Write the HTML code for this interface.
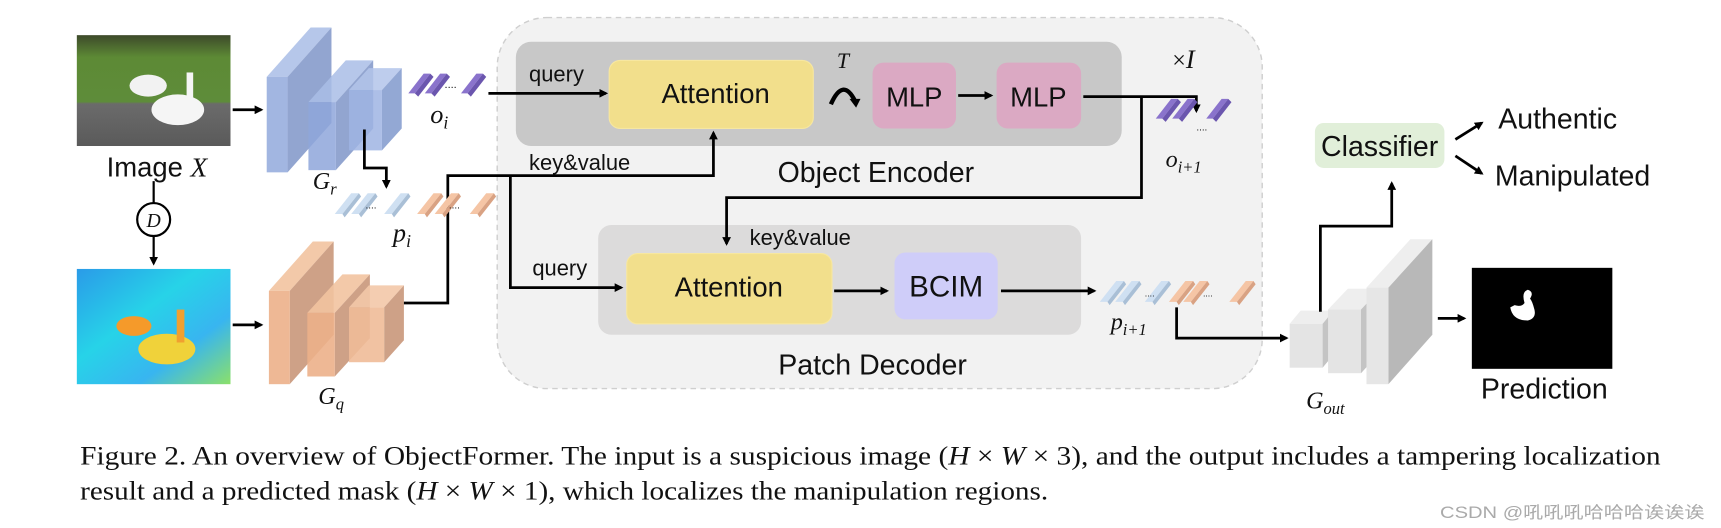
<!DOCTYPE html>
<html><head><meta charset="utf-8"><style>
html,body{margin:0;padding:0;background:#fff;}
svg{display:block;}
.s{font-family:"Liberation Sans",sans-serif;fill:#111;}
.m{font-family:"Liberation Serif",serif;font-style:italic;fill:#111;}
.c{font-family:"Liberation Serif",serif;fill:#111;}
</style></head><body>
<svg width="1721" height="528" viewBox="0 0 1568 481" xmlns="http://www.w3.org/2000/svg">
<defs>
<marker id="a" markerWidth="8" markerHeight="8" refX="6" refY="4" orient="auto" markerUnits="userSpaceOnUse"><path d="M0,0 L8,4 L0,8 Z" fill="#000"/></marker>
<linearGradient id="g1" x1="0" y1="0" x2="0" y2="1"><stop offset="0" stop-color="#3d4a2a"/><stop offset="0.2" stop-color="#5d8a35"/><stop offset="0.6" stop-color="#5e8c3a"/><stop offset="0.62" stop-color="#6b6b6b"/><stop offset="1" stop-color="#5a5a5a"/></linearGradient>
<linearGradient id="g2" x1="0" y1="0" x2="1" y2="1"><stop offset="0" stop-color="#2a9be8"/><stop offset="0.4" stop-color="#27d3e8"/><stop offset="0.7" stop-color="#38b5f0"/><stop offset="1" stop-color="#8be06a"/></linearGradient>
</defs>

<!-- images -->
<rect x="70" y="32" width="140" height="101" fill="url(#g1)"/>
<ellipse cx="135" cy="78" rx="17" ry="10" fill="#f2f2f2"/>
<ellipse cx="162" cy="100" rx="24" ry="14" fill="#f5f5f5"/>
<rect x="170" y="66" width="6" height="30" fill="#f5f5f5"/>
<rect x="70" y="245" width="140" height="105" fill="url(#g2)"/>
<ellipse cx="122" cy="297" rx="16" ry="9" fill="#f59a2a"/>
<ellipse cx="152" cy="318" rx="26" ry="14" fill="#f0d23a"/>
<rect x="161" y="282" width="7" height="30" fill="#f0a030"/>

<text x="143" y="161" class="s" font-size="25" text-anchor="middle">Image <tspan class="m">X</tspan></text>
<line x1="140" y1="165" x2="140" y2="185" stroke="#000" stroke-width="2"/>
<circle cx="140" cy="200" r="15" fill="#fff" stroke="#000" stroke-width="2"/>
<text x="140" y="207" class="m" font-size="18" text-anchor="middle">D</text>
<line x1="140" y1="215" x2="140" y2="240" stroke="#000" stroke-width="2" marker-end="url(#a)"/>
<line x1="212" y1="100" x2="238" y2="100" stroke="#000" stroke-width="2.5" marker-end="url(#a)"/>
<line x1="212" y1="296" x2="238" y2="296" stroke="#000" stroke-width="2.5" marker-end="url(#a)"/>

<!-- Gr -->
<g fill-opacity="0.85">
<polygon points="243,70 283,25 302,25 262,70" fill="#a9bde6"/>
<polygon points="262,70 302,25 302,112 262,157" fill="#7f95c8"/>
<rect x="243" y="70" width="19" height="87" fill="#92a9dc"/>
<polygon points="281,93 315,55 340,55 306,93" fill="#a9bde6"/>
<polygon points="306,93 340,55 340,117 306,155" fill="#7f95c8"/>
<rect x="281" y="93" width="25" height="62" fill="#8ea6da"/>
<polygon points="318,82 336,62 366,62 348,82" fill="#b3c4ea"/>
<polygon points="348,82 366,62 366,117 348,137" fill="#8099cc"/>
<rect x="318" y="82" width="30" height="55" fill="#9fb4e3"/>
</g>
<text x="285" y="172" class="m" font-size="22">G<tspan font-size="15" dy="5">r</tspan></text>
<!-- Gq -->
<g fill-opacity="0.9">
<polygon points="245,265 285,220 304,220 264,265" fill="#f2c3a0"/>
<polygon points="264,265 304,220 304,305 264,350" fill="#c9977a"/>
<rect x="245" y="265" width="19" height="85" fill="#ecb08a"/>
<polygon points="280,285 312,250 337,250 305,285" fill="#f2c3a0"/>
<polygon points="305,285 337,250 337,308 305,343" fill="#c9977a"/>
<rect x="280" y="285" width="25" height="58" fill="#ecb08a"/>
<polygon points="318,280 336,260 368,260 350,280" fill="#f3c8a8"/>
<polygon points="350,280 368,260 368,310 350,330" fill="#c9977a"/>
<rect x="318" y="280" width="32" height="50" fill="#f0bb98"/>
</g>
<text x="290" y="368" class="m" font-size="22">G<tspan font-size="15" dy="5">q</tspan></text>

<!-- container -->
<rect x="453" y="16" width="697" height="338" rx="45" fill="#f2f2f2" stroke="#cfcfcf" stroke-width="1.3" stroke-dasharray="5,4"/>
<rect x="470" y="38" width="552" height="95" rx="14" fill="#c8c8c8"/>
<rect x="545" y="205" width="440" height="100" rx="12" fill="#dcdbdb"/>

<!-- o_i tokens -->
<g id="tp">
<polygon points="372,85 386,67 392,67 378,85" fill="#8a73cc"/>
<polygon points="378,85 392,67 395,70 381,88" fill="#6b56ae"/>
</g>
<use href="#tp" x="15"/><use href="#tp" x="48"/>
<text x="405" y="80" class="s" font-size="10">....</text>
<text x="392" y="112" class="m" font-size="24">o<tspan font-size="16" dy="5">i</tspan></text>

<!-- Object encoder -->
<text x="482" y="74" class="s" font-size="20">query</text>
<line x1="445" y1="85" x2="552" y2="85" stroke="#000" stroke-width="2.5" marker-end="url(#a)"/>
<rect x="555" y="55" width="186" height="62" rx="10" fill="#f2df8c" stroke="#f7e7a0"/>
<text x="652" y="94" class="s" font-size="25" text-anchor="middle">Attention</text>
<text x="768" y="62" class="m" font-size="20" text-anchor="middle">T</text>
<path d="M757,95 Q768,70 779,92" fill="none" stroke="#000" stroke-width="4"/>
<path d="M774,90 L784,90 L780,98 Z" fill="#000"/>
<rect x="795" y="57" width="76" height="60" rx="10" fill="#dba9c3"/>
<text x="833" y="97" class="s" font-size="25" text-anchor="middle">MLP</text>
<line x1="873" y1="87" x2="903" y2="87" stroke="#000" stroke-width="2.5" marker-end="url(#a)"/>
<rect x="908" y="57" width="77" height="60" rx="10" fill="#dba9c3"/>
<text x="946" y="97" class="s" font-size="25" text-anchor="middle">MLP</text>
<polyline points="987,88 1090,88 1090,101" fill="none" stroke="#000" stroke-width="2.5" marker-end="url(#a)"/>
<text x="1068" y="62" class="c" font-size="22">×<tspan class="m" font-size="24">I</tspan></text>
<use href="#tp" x="681" y="23"/><use href="#tp" x="696" y="23"/><use href="#tp" x="727" y="23"/>
<text x="1090" y="119" class="s" font-size="9">....</text>
<text x="1062" y="152" class="m" font-size="22">o<tspan font-size="15" dy="5">i+1</tspan></text>
<polyline points="1040,88 1040,180 662,180 662,222" fill="none" stroke="#000" stroke-width="2.5" marker-end="url(#a)"/>
<text x="482" y="155" class="s" font-size="20">key&amp;value</text>
<text x="798" y="166" class="s" font-size="26" text-anchor="middle">Object Encoder</text>

<!-- p_i tokens and lines -->
<polyline points="332,118 332,153 352,153 352,170" fill="none" stroke="#000" stroke-width="2.5" marker-end="url(#a)"/>
<polyline points="368,276 408,276 408,160 650,160 650,121" fill="none" stroke="#000" stroke-width="2.5" marker-end="url(#a)"/>
<polyline points="465,160 465,262 566,262" fill="none" stroke="#000" stroke-width="2.5" marker-end="url(#a)"/>
<g id="tb">
<polygon points="305,195 320,176 327,176 312,195" fill="#cfe0f2"/>
<polygon points="312,195 327,176 329,179 314,198" fill="#a9bfd6"/>
</g>
<use href="#tb" x="15"/><use href="#tb" x="45"/>
<g id="to">
<polygon points="380,195 395,176 402,176 387,195" fill="#f5c5a5"/>
<polygon points="387,195 402,176 404,179 389,198" fill="#d9a283"/>
</g>
<use href="#to" x="16"/><use href="#to" x="48"/>
<text x="333" y="190" class="s" font-size="9">....</text>
<text x="409" y="190" class="s" font-size="9">....</text>
<text x="358" y="220" class="m" font-size="24">p<tspan font-size="16" dy="5">i</tspan></text>

<!-- Patch decoder -->
<text x="683" y="223" class="s" font-size="20">key&amp;value</text>
<text x="485" y="251" class="s" font-size="20">query</text>
<rect x="571" y="231" width="187" height="64" rx="10" fill="#f2df8c" stroke="#f7e7a0"/>
<text x="664" y="270" class="s" font-size="25" text-anchor="middle">Attention</text>
<line x1="760" y1="265" x2="808" y2="265" stroke="#000" stroke-width="2.5" marker-end="url(#a)"/>
<rect x="815" y="230" width="94" height="61" rx="10" fill="#cfcdf9"/>
<text x="862" y="270" class="s" font-size="27" text-anchor="middle">BCIM</text>
<line x1="912" y1="265" x2="997" y2="265" stroke="#000" stroke-width="2.5" marker-end="url(#a)"/>
<use href="#tb" x="697" y="80"/><use href="#tb" x="711" y="80"/><use href="#tb" x="738" y="80"/>
<use href="#to" x="685" y="80"/><use href="#to" x="698" y="80"/><use href="#to" x="740" y="80"/>
<text x="1043" y="270" class="s" font-size="8">....</text>
<text x="1096" y="270" class="s" font-size="8">....</text>
<text x="1012" y="300" class="m" font-size="22">p<tspan font-size="15" dy="5">i+1</tspan></text>
<text x="795" y="341" class="s" font-size="26" text-anchor="middle">Patch Decoder</text>
<polyline points="1072,280 1072,308 1172,308" fill="none" stroke="#000" stroke-width="2.5" marker-end="url(#a)"/>

<!-- Gout -->
<polygon points="1175,295 1185,283 1215,283 1205,295" fill="#eeeeee"/>
<polygon points="1205,295 1215,283 1215,323 1205,335" fill="#c4c4c4"/>
<rect x="1175" y="295" width="30" height="40" fill="#e4e4e4"/>
<polygon points="1210,282 1228,263 1258,263 1240,282" fill="#eeeeee"/>
<polygon points="1240,282 1258,263 1258,320 1240,340" fill="#c4c4c4"/>
<rect x="1210" y="282" width="30" height="58" fill="#e4e4e4"/>
<polygon points="1245,262 1285,218 1305,218 1265,262" fill="#eeeeee"/>
<polygon points="1265,262 1305,218 1305,305 1265,350" fill="#b8b8b8"/>
<rect x="1245" y="262" width="20" height="88" fill="#e6e6e6"/>
<text x="1190" y="372" class="m" font-size="22">G<tspan font-size="15" dy="5">out</tspan></text>
<polyline points="1203,284 1203,206 1268,206 1268,167" fill="none" stroke="#000" stroke-width="2.5" marker-end="url(#a)"/>
<rect x="1198" y="112" width="118" height="41" rx="8" fill="#e1efd9"/>
<text x="1257" y="142" class="s" font-size="26" text-anchor="middle">Classifier</text>
<line x1="1326" y1="127" x2="1350" y2="112" stroke="#000" stroke-width="2.5" marker-end="url(#a)"/>
<line x1="1326" y1="142" x2="1350" y2="158" stroke="#000" stroke-width="2.5" marker-end="url(#a)"/>
<text x="1365" y="117" class="s" font-size="26">Authentic</text>
<text x="1362" y="169" class="s" font-size="26">Manipulated</text>
<line x1="1310" y1="290" x2="1334" y2="290" stroke="#000" stroke-width="2.5" marker-end="url(#a)"/>
<rect x="1341" y="244" width="128" height="92" fill="#000"/>
<path d="M1376,280 Q1378,292 1392,292 Q1400,290 1398,282 Q1396,274 1394,272 Q1398,266 1392,264 Q1386,266 1389,276 Q1386,280 1380,278 Z" fill="#fff"/>
<text x="1407" y="363" class="s" font-size="26" text-anchor="middle">Prediction</text>

<!-- caption -->
<text x="73" y="423" class="c" font-size="24" textLength="1440" lengthAdjust="spacingAndGlyphs">Figure 2. An overview of ObjectFormer. The input is a suspicious image (<tspan class="m">H</tspan> × <tspan class="m">W</tspan> × 3), and the output includes a tampering localization</text>
<text x="73" y="455" class="c" font-size="24" textLength="882" lengthAdjust="spacingAndGlyphs">result and a predicted mask (<tspan class="m">H</tspan> × <tspan class="m">W</tspan> × 1), which localizes the manipulation regions.</text>
<text x="1312" y="472" font-family="Liberation Sans, Noto Sans CJK SC, sans-serif" font-size="15" fill="#aaa" textLength="241" lengthAdjust="spacingAndGlyphs">CSDN @吼吼吼哈哈哈诶诶诶</text>
</svg>
</body></html>
